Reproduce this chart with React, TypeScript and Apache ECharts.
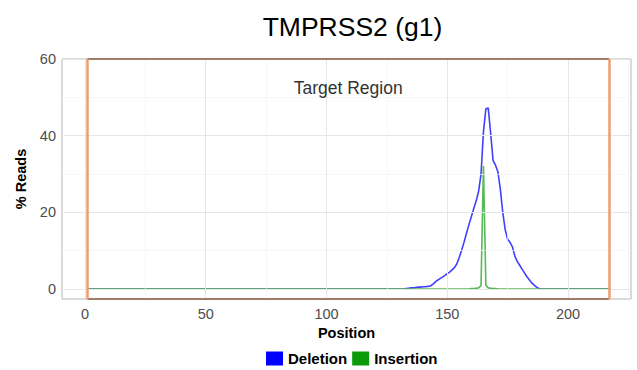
import React, { useEffect, useRef } from "react";
import * as echarts from "echarts";

// Positions covered by the amplicon (target region 1..217)
const firstPos = 1;
const lastPos = 217;

// Deletion % reads, positions 130..190 (zero elsewhere)
const deletionStart = 130;
const deletionValues = [
  0, 0, 0, 0.1, 0.2, 0.3, 0.3, 0.4, 0.5, 0.5, 0.6, 0.6, 0.7, 0.8, 1.2, 1.8, 2.3,
  2.7, 3.1, 3.5, 4.0, 4.4, 5.0, 5.6, 6.6, 8.3, 10.2, 12.3, 14.6, 16.8, 18.9,
  21.0, 23.0, 25.5, 30.0, 41.0, 47.0, 47.2, 40.5, 33.5, 32.3, 30.5, 26.0, 20.0,
  15.5, 13.0, 12.2, 11.0, 8.6, 7.2, 6.2, 5.2, 4.2, 3.2, 2.4, 1.6, 1.0, 0.5, 0.1,
  0, 0,
];

// Insertion % reads, positions 160..170 (zero elsewhere)
const insertionStart = 160;
const insertionValues = [0.1, 0.1, 0.2, 0.3, 0.9, 32.1, 1.0, 0.3, 0.2, 0.1, 0.1];

const xTicks = [0, 50, 100, 150, 200];
const xMinor = [25, 75, 125, 175, 225];
const yTicks = [0, 20, 40, 60];
const yMinor = [10, 30, 50];

const X_MIN = -9.52;
const X_MAX = 226.1;
const Y_MIN = -2.6;
const Y_MAX = 60;

function buildSeries(start: number, values: number[]) {
  const out: [number, number][] = [];
  for (let p = firstPos; p <= lastPos; p++) {
    const i = p - start;
    const v = i >= 0 && i < values.length ? values[i] : 0;
    out.push([p, v]);
  }
  return out;
}

const FONT = "Liberation Sans, Arial, Helvetica, sans-serif";

export default function App() {
  const ref = useRef<HTMLDivElement>(null);
  useEffect(() => {
    if (!ref.current) return;
    const chart = echarts.init(ref.current, undefined, { renderer: "svg" });
    const deletion = buildSeries(deletionStart, deletionValues);
    const insertion = buildSeries(insertionStart, insertionValues);

    const gridLines: any[] = [
      ...xMinor.map((v) => ({ xAxis: v, lineStyle: { color: "#f3f3f3", width: 0.7, type: "solid" } })),
      ...yMinor.map((v) => ({ yAxis: v, lineStyle: { color: "#f3f3f3", width: 0.7, type: "solid" } })),
      ...xTicks.map((v) => ({ xAxis: v, lineStyle: { color: "#e6e6e6", width: 1, type: "solid" } })),
      ...yTicks.map((v) => ({ yAxis: v, lineStyle: { color: "#e6e6e6", width: 1, type: "solid" } })),
    ];

    chart.setOption({
      animation: false,
      textStyle: { fontFamily: FONT },
      title: {
        text: "TMPRSS2 (g1)",
        left: 347.5,
        top: 8,
        textAlign: "center",
        textStyle: { fontFamily: FONT, fontSize: 26.5, fontWeight: "normal", color: "#000" },
      },
      grid: {
        left: 62,
        top: 59,
        width: 569,
        height: 240,
        show: true,
        borderColor: "#b5b5b5",
        borderWidth: 1,
        backgroundColor: "#fff",
      },
      legend: {
        top: 351,
        left: 266,
        padding: 0,
        itemWidth: 17,
        itemHeight: 14,
        itemGap: 5,
        textStyle: { fontFamily: FONT, fontSize: 15, fontWeight: "bold", color: "#000" },
        data: [
          { name: "Deletion", icon: "rect", itemStyle: { color: "#0000ff" } },
          { name: "Insertion", icon: "rect", itemStyle: { color: "#0a9a0a" } },
        ],
      },
      xAxis: {
        type: "value",
        min: X_MIN,
        max: X_MAX,
        name: "Position",
        nameLocation: "middle",
        nameGap: 25,
        nameTextStyle: { fontFamily: FONT, fontSize: 14.5, fontWeight: "bold", color: "#000" },
        axisLine: { show: false },
        splitLine: { show: false },
        axisTick: { show: true, customValues: xTicks, length: 4, lineStyle: { color: "#555" } },
        axisLabel: { customValues: xTicks, fontSize: 14.5, color: "#4d4d4d", margin: 7, fontFamily: FONT },
      },
      yAxis: {
        type: "value",
        min: Y_MIN,
        max: Y_MAX,
        name: "% Reads",
        nameLocation: "middle",
        nameGap: 28,
        nameTextStyle: { fontFamily: FONT, fontSize: 14.5, fontWeight: "bold", color: "#000" },
        axisLine: { show: false },
        splitLine: { show: false },
        axisTick: { show: true, customValues: yTicks, length: 4, lineStyle: { color: "#555" } },
        axisLabel: { customValues: yTicks, fontSize: 14.5, color: "#4d4d4d", margin: 6, fontFamily: FONT },
      },
      series: [
        {
          name: "grid",
          type: "line",
          data: [],
          silent: true,
          z: 0,
          markLine: {
            silent: true,
            symbol: "none",
            label: { show: false },
            data: gridLines,
          },
        },
        {
          name: "region",
          type: "line",
          data: [],
          silent: true,
          z: 5,
          markLine: {
            silent: true,
            symbol: "none",
            label: { show: false },
            data: [
              [
                { coord: [firstPos, Y_MAX], lineStyle: { color: "#8a5a40", width: 1.6, type: "solid" } },
                { coord: [lastPos, Y_MAX] },
              ],
              [
                { coord: [firstPos, Y_MIN], lineStyle: { color: "#8a5a40", width: 1.6, type: "solid" } },
                { coord: [lastPos, Y_MIN] },
              ],
              [
                { coord: [firstPos, Y_MIN], lineStyle: { color: "#eb9e70", width: 2.5, type: "solid" } },
                { coord: [firstPos, Y_MAX] },
              ],
              [
                { coord: [lastPos, Y_MIN], lineStyle: { color: "#eb9e70", width: 2.5, type: "solid" } },
                { coord: [lastPos, Y_MAX] },
              ],
            ],
          },
          markPoint: {
            silent: true,
            symbol: "circle",
            symbolSize: 0,
            data: [{ coord: [(firstPos + lastPos) / 2, 52.4] }],
            label: {
              show: true,
              position: "inside",
              formatter: "Target Region",
              fontFamily: FONT,
              fontSize: 17.5,
              color: "#333",
            },
          },
        },
        {
          name: "Deletion",
          type: "line",
          data: deletion,
          showSymbol: false,
          z: 3,
          itemStyle: { color: "#0000ff" },
          lineStyle: { color: "#4040ff", width: 1.6 },
        },
        {
          name: "Insertion",
          type: "line",
          data: insertion,
          showSymbol: false,
          z: 4,
          itemStyle: { color: "#0a9a0a" },
          lineStyle: { color: "#55b955", width: 1.6 },
        },
      ],
    });
    return () => chart.dispose();
  }, []);
  return (
    <div
      ref={ref}
      style={{ position: "absolute", left: 0, top: 0, width: 637, height: 370 }}
    />
  );
}
